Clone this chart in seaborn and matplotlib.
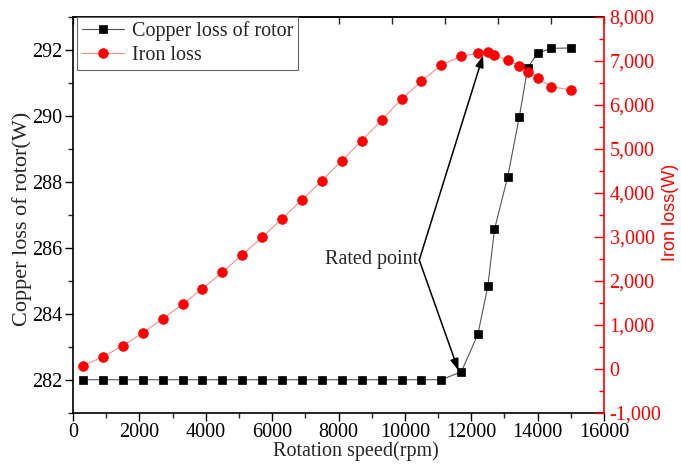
import numpy as np
import pandas as pd
import matplotlib
matplotlib.use("Agg")
import matplotlib.pyplot as plt
from matplotlib.ticker import MultipleLocator, FuncFormatter
import seaborn as sns

# ---- data ----
speed = [300, 900, 1500, 2100, 2700, 3300, 3900, 4500, 5100, 5700, 6300, 6900,
         7500, 8100, 8700, 9300, 9900, 10500, 11100, 11700, 12200, 12500, 12700,
         13100, 13450, 13700, 14000, 14400, 15000]
copper_loss = [282.0] * 19 + [282.24, 283.38, 284.84, 286.56, 288.16, 289.98,
                              291.46, 291.90, 292.05, 292.06]
iron_loss = [68, 272, 522, 816, 1134, 1467, 1823, 2193, 2590, 2993, 3410, 3841,
             4279, 4732, 5186, 5655, 6135, 6540, 6909, 7106, 7174, 7211, 7136,
             7016, 6887, 6757, 6608, 6417, 6342]
label_copper = "Copper loss of rotor"
label_iron = "Iron loss"
xlabel = "Rotation speed(rpm)"
ylabel_left = "Copper loss of rotor(W)"
ylabel_right = "Iron loss(W)"
annot_text = "Rated point"

df = pd.DataFrame({"speed": speed, "copper": copper_loss, "iron": iron_loss})

sns.set_style("ticks")
plt.rcParams["font.family"] = ["Liberation Serif", "DejaVu Serif"]

FS = 14.5
fig = plt.figure(figsize=(6.81, 4.65), dpi=100)
ax = fig.add_axes([73 / 681, 1 - 412.7 / 465, (604 - 73) / 681, (412.7 - 17) / 465])
ax2 = ax.twinx()

sns.lineplot(data=df, x="speed", y="copper", ax=ax, color="#555555", lw=0.8,
             marker="s", markersize=5.2, markerfacecolor="black",
             markeredgecolor="black", markeredgewidth=0.5, label=label_copper,
             legend=False)
sns.lineplot(data=df, x="speed", y="iron", ax=ax2, color="#ff8c8c", lw=0.8,
             marker="o", markersize=7, markerfacecolor="#ff0000",
             markeredgecolor="#ff0000", markeredgewidth=0.5, label=label_iron,
             legend=False)

ax.set_xlim(0, 16000)
ax.set_ylim(281, 293)
ax2.set_ylim(-1000, 8000)

ax.xaxis.set_major_locator(MultipleLocator(2000))
ax.xaxis.set_minor_locator(MultipleLocator(1000))
ax.yaxis.set_major_locator(MultipleLocator(2))
ax.yaxis.set_minor_locator(MultipleLocator(1))
ax2.yaxis.set_major_locator(MultipleLocator(1000))
ax2.yaxis.set_minor_locator(MultipleLocator(500))
ax2.yaxis.set_major_formatter(FuncFormatter(lambda v, p: f"{int(v):,}"))

ax.tick_params(axis="both", which="major", direction="out", length=5.5, width=1,
               labelsize=FS, colors="black", pad=2)
ax.tick_params(axis="both", which="minor", direction="out", length=3.5, width=1)
ax.tick_params(axis="y", right=False)
ax2.tick_params(axis="y", which="major", direction="in", length=7, width=1,
                colors="#ff0000", labelsize=FS, pad=4)
ax2.tick_params(axis="y", which="minor", direction="in", length=3.5, width=1,
                colors="#ff0000")

# top axis ticks (no labels)
sec = ax.secondary_xaxis("top")
sec.set_xticks(np.arange(0, 16001, 1600))
sec.tick_params(direction="in", length=5, width=1, labeltop=False)
sec.spines["top"].set_linewidth(1.2)

for s in ["left", "bottom", "top"]:
    ax.spines[s].set_visible(True)
    ax.spines[s].set_color("black")
    ax.spines[s].set_linewidth(1.2)
ax.spines["right"].set_visible(False)
for s in ["left", "bottom", "top"]:
    ax2.spines[s].set_visible(False)
ax2.spines["right"].set_visible(True)
ax2.spines["right"].set_color("#ff0000")
ax2.spines["right"].set_linewidth(1.2)

ax.set_xlabel(xlabel, fontsize=FS)
ax.xaxis.set_label_coords(0.532, -0.072)
ax.set_ylabel(ylabel_left, fontsize=16)
ax.yaxis.set_label_coords(-0.077, 0.49)
ax2.set_ylabel(ylabel_right, fontsize=13, color="#ff0000",
               family=["Liberation Sans", "DejaVu Sans"])
ax2.yaxis.set_label_coords(1.109, 0.505)

# annotation
tail = (10433, 285.63)
ax.text(tail[0] - 40, tail[1] + 0.03, annot_text, ha="right", va="center",
        fontsize=FS)
arrow = dict(arrowstyle="-|>,head_length=0.7,head_width=0.25", lw=1.1,
             color="black", shrinkA=0, shrinkB=0)
ax.annotate("", xy=(12357, 291.83), xytext=tail, arrowprops=arrow)
ax.annotate("", xy=(11615, 282.28), xytext=tail, arrowprops=arrow)

h1, l1 = ax.get_legend_handles_labels()
h2, l2 = ax2.get_legend_handles_labels()
leg = ax2.legend(h1 + h2, l1 + l2, loc="upper left", bbox_to_anchor=(0.008, 1.0),
                 borderaxespad=0, fontsize=FS, frameon=True, fancybox=False,
                 framealpha=1, edgecolor="#666666", handlelength=2.1,
                 handletextpad=0.4, borderpad=0.22, labelspacing=0.25)
leg.get_frame().set_linewidth(0.8)

fig.savefig("out.png", dpi=100)
